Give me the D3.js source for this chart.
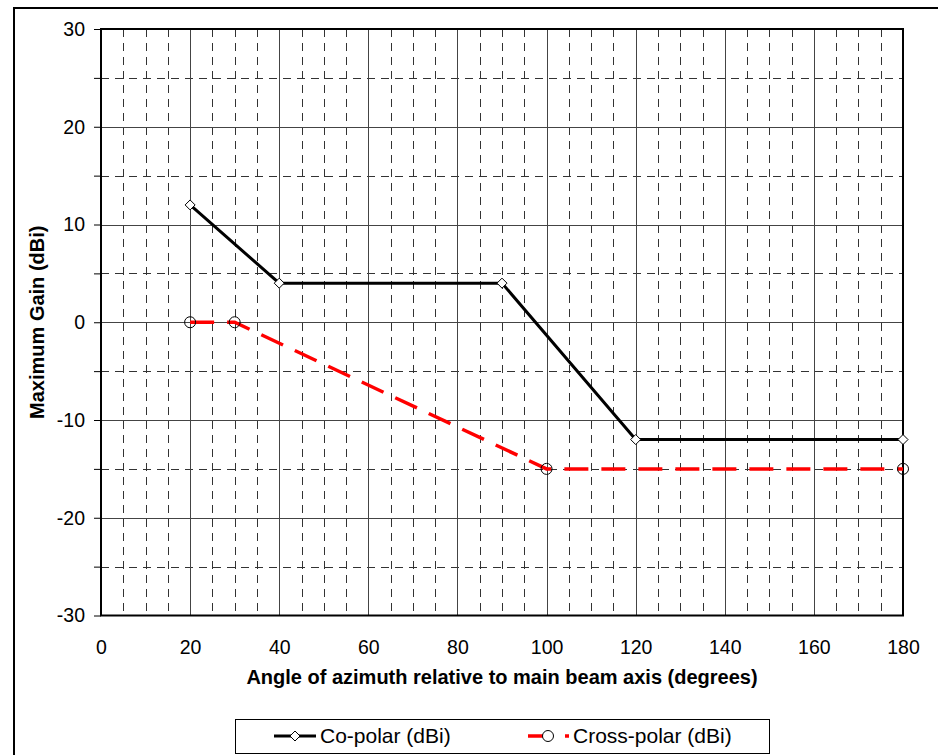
<!DOCTYPE html>
<html><head><meta charset="utf-8">
<script src="https://cdn.jsdelivr.net/npm/d3@7"></script>
<style>body{margin:0;background:#fff;} svg{display:block;font-family:"Liberation Sans",Arial,sans-serif;}</style>
</head><body>
<svg id="c" width="938" height="755"></svg>
<script>
const coAngles = [20, 40, 90, 120, 180];
const coGain = [12, 4, 4, -12, -12];
const crossAngles = [20, 30, 100, 180];
const crossGain = [0, 0, -15, -15];
const xTicks = [0, 20, 40, 60, 80, 100, 120, 140, 160, 180];
const yTicks = [-30, -20, -10, 0, 10, 20, 30];
const seriesNames = ["Co-polar (dBi)", "Cross-polar (dBi)"];
const xTitle = "Angle of azimuth relative to main beam axis (degrees)";
const yTitle = "Maximum Gain (dBi)";

const svg = d3.select("#c");
const L = 101, R = 903, T = 29, B = 615.5;
const x = d3.scaleLinear().domain([0, 180]).range([L, R]);
const y = d3.scaleLinear().domain([-30, 30]).range([B, T]);
const FONT = "Liberation Sans, Arial, sans-serif";

// outer frame
svg.append("rect").attr("x", 14).attr("y", 8).attr("width", 1000).attr("height", 1000)
  .attr("fill", "none").attr("stroke", "#000").attr("stroke-width", 2);

const g = svg.append("g");
// minor grid
const minorX = d3.range(5, 180, 5).filter(v => v % 20 !== 0);
const minorY = d3.range(-25, 30, 5).filter(v => v % 10 !== 0);
g.selectAll(".mx").data(minorX).join("line")
  .attr("x1", d => Math.round(x(d)) + 0.5).attr("x2", d => Math.round(x(d)) + 0.5)
  .attr("y1", T).attr("y2", B).attr("stroke", "#333").attr("stroke-width", 1)
  .attr("stroke-dasharray", "8,6");
g.selectAll(".my").data(minorY).join("line")
  .attr("y1", d => Math.round(y(d)) + 0.5).attr("y2", d => Math.round(y(d)) + 0.5)
  .attr("x1", L).attr("x2", R).attr("stroke", "#333").attr("stroke-width", 1)
  .attr("stroke-dasharray", "8,6");
// major grid
g.selectAll(".Mx").data(xTicks.filter(v => v > 0 && v < 180)).join("line")
  .attr("x1", d => Math.round(x(d)) + 0.5).attr("x2", d => Math.round(x(d)) + 0.5)
  .attr("y1", T).attr("y2", B).attr("stroke", "#444").attr("stroke-width", 1);
g.selectAll(".My").data(yTicks.filter(v => v > -30 && v < 30)).join("line")
  .attr("y1", d => Math.round(y(d)) + 0.5).attr("y2", d => Math.round(y(d)) + 0.5)
  .attr("x1", L).attr("x2", R).attr("stroke", "#444").attr("stroke-width", 1);

// plot border
svg.append("rect").attr("x", L).attr("y", T).attr("width", R - L).attr("height", B - T)
  .attr("fill", "none").attr("stroke", "#000").attr("stroke-width", 2);

// y axis ticks (every 5) and labels
const yAx = d3.axisLeft(y).tickValues(d3.range(-30, 31, 5)).tickSize(7)
  .tickFormat(d => yTicks.includes(d) ? d : "");
const ya = svg.append("g").attr("transform", `translate(${L},0)`).call(yAx);
ya.select(".domain").remove();
ya.selectAll("line").attr("stroke", "#000");
ya.selectAll("text").attr("font-size", 19.5).attr("font-family", FONT)
  .attr("fill", "#000").attr("x", -16);

// x axis labels
const xAx = d3.axisBottom(x).tickValues(xTicks).tickSize(0);
const xa = svg.append("g").attr("transform", `translate(0,${B})`).call(xAx);
xa.select(".domain").remove();
xa.selectAll("text").attr("font-size", 19.5).attr("font-family", FONT)
  .attr("fill", "#000").attr("dy", 0).attr("y", 38);

// titles
svg.append("text").attr("x", (L + R) / 2).attr("y", 684).attr("text-anchor", "middle")
  .attr("font-size", 20).attr("font-weight", "bold").text(xTitle);
svg.append("text").attr("transform", `translate(44,${(T + B) / 2}) rotate(-90)`)
  .attr("text-anchor", "middle").attr("font-size", 20).attr("font-weight", "bold").text(yTitle);

// series
const line = d3.line().x(d => x(d[0])).y(d => y(d[1]));
const co = coAngles.map((a, i) => [a, coGain[i]]);
const cr = crossAngles.map((a, i) => [a, crossGain[i]]);
svg.append("path").attr("d", line(cr)).attr("fill", "none").attr("stroke", "#ff0000")
  .attr("stroke-width", 3.5).attr("stroke-dasharray", "24,13");
svg.append("path").attr("d", line(co)).attr("fill", "none").attr("stroke", "#000")
  .attr("stroke-width", 3);
const diamond = (cx, cy, s) => `M${cx},${cy - s}L${cx + s},${cy}L${cx},${cy + s}L${cx - s},${cy}Z`;
svg.selectAll(".dm").data(co).join("path")
  .attr("d", d => diamond(x(d[0]), y(d[1]), 5)).attr("fill", "#fff").attr("stroke", "#000").attr("stroke-width", 1);
svg.selectAll(".ci").data(cr).join("circle")
  .attr("cx", d => x(d[0])).attr("cy", d => y(d[1])).attr("r", 5.5)
  .attr("fill", "none").attr("stroke", "#000").attr("stroke-width", 1);

// legend
const lg = svg.append("g");
lg.append("rect").attr("x", 235.5).attr("y", 719.5).attr("width", 534).attr("height", 34)
  .attr("fill", "#fff").attr("stroke", "#000").attr("stroke-width", 1);
const ly = 736;
lg.append("line").attr("x1", 274).attr("x2", 316).attr("y1", ly).attr("y2", ly)
  .attr("stroke", "#000").attr("stroke-width", 3);
lg.append("path").attr("d", diamond(295, ly, 5)).attr("fill", "#fff").attr("stroke", "#000").attr("stroke-width", 1);
lg.append("text").attr("x", 320).attr("y", 743).attr("font-size", 21).text(seriesNames[0]);
lg.append("line").attr("x1", 528).attr("x2", 569).attr("y1", ly).attr("y2", ly)
  .attr("stroke", "#ff0000").attr("stroke-width", 3.5).attr("stroke-dasharray", "24,13");
lg.append("circle").attr("cx", 548).attr("cy", ly).attr("r", 5.5).attr("fill", "#fff")
  .attr("stroke", "#000").attr("stroke-width", 1);
lg.append("text").attr("x", 573).attr("y", 743).attr("font-size", 21).text(seriesNames[1]);
</script>
</body></html>
